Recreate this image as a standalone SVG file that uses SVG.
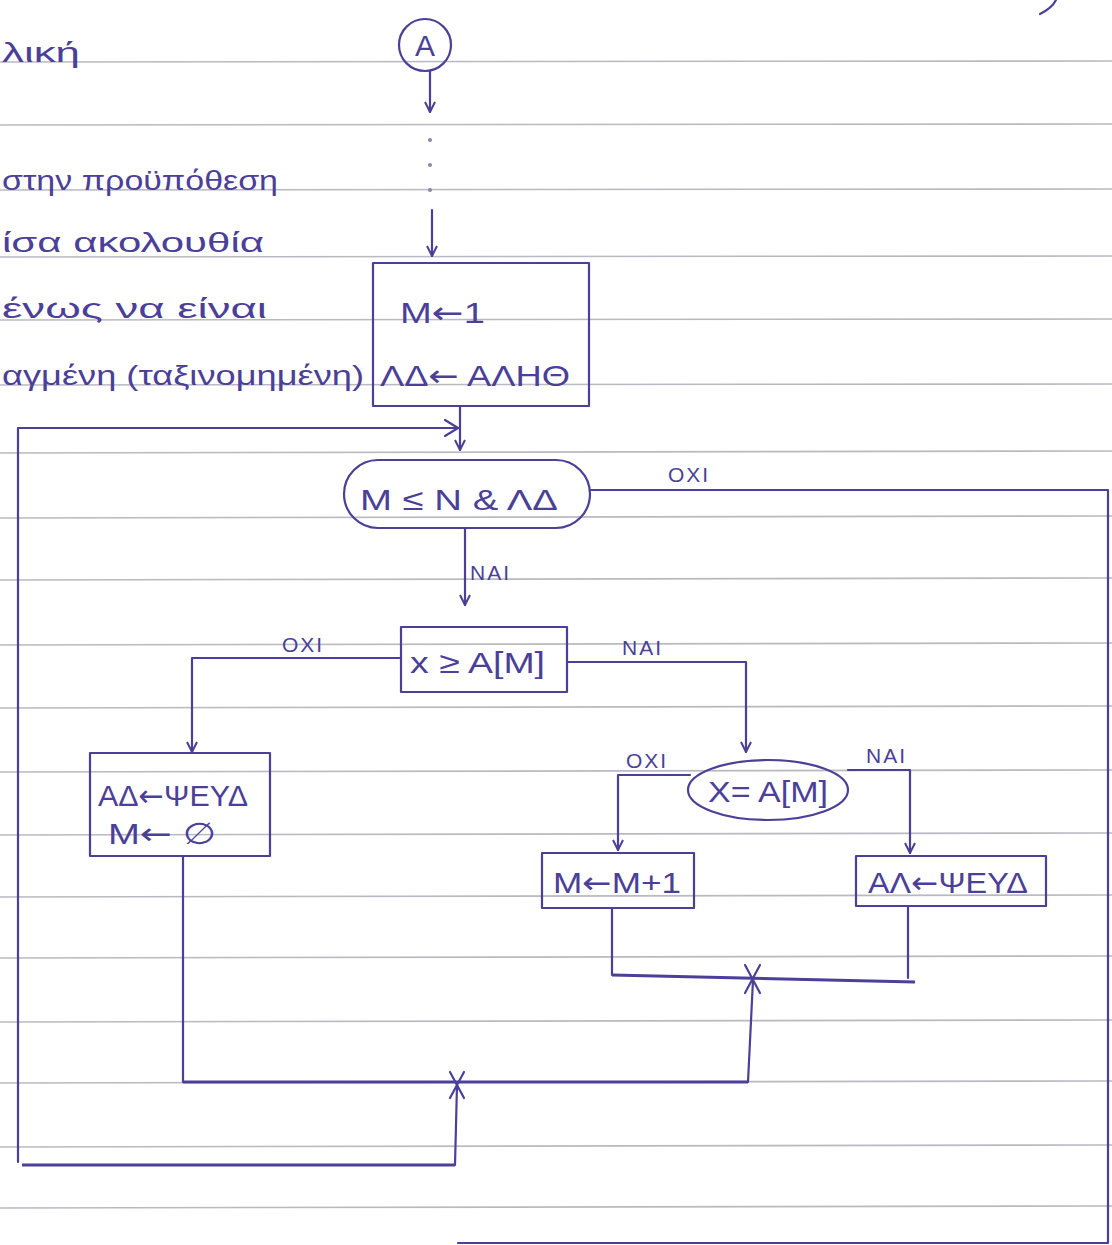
<svg xmlns="http://www.w3.org/2000/svg" width="1112" height="1245" viewBox="0 0 1112 1245">
<style>
.paper{stroke:#b9b9c2;stroke-width:1.6}
.pen{fill:none;stroke:#4b3f98;stroke-width:2.2;stroke-linecap:round;stroke-linejoin:round}
.thick{fill:none;stroke:#4b3f98;stroke-width:3}
.t{font-family:"Liberation Sans","DejaVu Sans",sans-serif;fill:#4b3f98;font-size:30px}
.ar{font-family:"DejaVu Sans",sans-serif}
.m{font-family:"Liberation Sans","DejaVu Sans",sans-serif;fill:#4b3f98;font-size:27px}
.lbl{font-family:"Liberation Sans","DejaVu Sans",sans-serif;fill:#4b3f98;font-size:21px;letter-spacing:2px}
</style>
<defs>
<marker id="ah" viewBox="0 0 12 12" refX="11" refY="6" markerWidth="12" markerHeight="12" markerUnits="userSpaceOnUse" orient="auto">
<path d="M1,1 L11,6 L1,11" fill="none" stroke="#4b3f98" stroke-width="2"/>
</marker>
</defs>
<rect width="1112" height="1245" fill="#ffffff"/>
<g id="paper-lines">
<line class="paper" x1="0" y1="62" x2="1112" y2="61"/>
<line class="paper" x1="0" y1="125" x2="1112" y2="124"/>
<line class="paper" x1="0" y1="190" x2="1112" y2="189"/>
<line class="paper" x1="0" y1="257" x2="1112" y2="256"/>
<line class="paper" x1="0" y1="320" x2="1112" y2="319"/>
<line class="paper" x1="0" y1="385" x2="1112" y2="384"/>
<line class="paper" x1="0" y1="453" x2="1112" y2="451"/>
<line class="paper" x1="0" y1="518" x2="1112" y2="516"/>
<line class="paper" x1="0" y1="580" x2="1112" y2="578"/>
<line class="paper" x1="0" y1="645" x2="1112" y2="643"/>
<line class="paper" x1="0" y1="708" x2="1112" y2="706"/>
<line class="paper" x1="0" y1="772" x2="1112" y2="770"/>
<line class="paper" x1="0" y1="835" x2="1112" y2="833"/>
<line class="paper" x1="0" y1="897" x2="1112" y2="895"/>
<line class="paper" x1="0" y1="958" x2="1112" y2="956"/>
<line class="paper" x1="0" y1="1022" x2="1112" y2="1020"/>
<line class="paper" x1="0" y1="1083" x2="1112" y2="1081"/>
<line class="paper" x1="0" y1="1147" x2="1112" y2="1145"/>
<line class="paper" x1="0" y1="1208" x2="1112" y2="1206"/>
</g>
<g id="margin-notes">
<text class="m" x="2" y="62" textLength="78" lengthAdjust="spacingAndGlyphs">λική</text>
<text class="m" x="2" y="190" textLength="276" lengthAdjust="spacingAndGlyphs">στην προϋπόθεση</text>
<text class="m" x="2" y="252" textLength="262" lengthAdjust="spacingAndGlyphs">ίσα ακολουθία</text>
<text class="m" x="2" y="318" textLength="265" lengthAdjust="spacingAndGlyphs">ένως να είναι</text>
<text class="m" x="2" y="385" textLength="362" lengthAdjust="spacingAndGlyphs">αγμένη (ταξινομημένη)</text>
<path class="pen" d="M1040,14 Q1052,8 1056,0"/>
</g>
<g id="node-A">
<circle class="pen" cx="425" cy="45" r="26"/>
<text class="t" x="425" y="56" text-anchor="middle" font-size="28">A</text>
</g>
<g id="node-init">
<rect class="pen" x="373" y="263" width="216" height="143"/>
<text class="t" x="400" y="323" font-size="34" textLength="85" lengthAdjust="spacingAndGlyphs">Μ<tspan class="ar">←</tspan>1</text>
<text class="t" x="380" y="386" textLength="190" lengthAdjust="spacingAndGlyphs">ΛΔ<tspan class="ar">←</tspan> ΑΛΗΘ</text>
</g>
<g id="node-while">
<rect class="pen" x="344" y="460" width="246" height="68" rx="34" ry="34"/>
<text class="t" x="360" y="510" font-size="32" textLength="198" lengthAdjust="spacingAndGlyphs">Μ ≤ Ν &amp;  ΛΔ</text>
</g>
<g id="node-cmp">
<rect class="pen" x="401" y="627" width="166" height="65"/>
<text class="t" x="410" y="673" textLength="135" lengthAdjust="spacingAndGlyphs">x ≥ A[M]</text>
</g>
<g id="node-false">
<rect class="pen" x="90" y="753" width="180" height="103"/>
<text class="t" x="98" y="806" textLength="150" lengthAdjust="spacingAndGlyphs">ΑΔ<tspan class="ar">←</tspan>ΨΕΥΔ</text>
<text class="t" x="108" y="844" textLength="108" lengthAdjust="spacingAndGlyphs">Μ<tspan class="ar">←</tspan> ∅</text>
</g>
<g id="node-eq">
<ellipse class="pen" cx="768" cy="790" rx="80" ry="30"/>
<text class="t" x="768" y="802" text-anchor="middle" textLength="120" lengthAdjust="spacingAndGlyphs">X= A[M]</text>
</g>
<g id="node-inc">
<rect class="pen" x="542" y="853" width="152" height="55"/>
<text class="t" x="553" y="893" textLength="128" lengthAdjust="spacingAndGlyphs">Μ<tspan class="ar">←</tspan>Μ+1</text>
</g>
<g id="node-found">
<rect class="pen" x="856" y="856" width="190" height="50"/>
<text class="t" x="868" y="893" textLength="160" lengthAdjust="spacingAndGlyphs">ΑΛ<tspan class="ar">←</tspan>ΨΕΥΔ</text>
</g>
<g id="connectors">
<line class="pen" x1="430" y1="71" x2="430" y2="112" marker-end="url(#ah)"/>
<circle cx="430" cy="140" r="2" fill="#8a86a8"/>
<circle cx="430" cy="165" r="2" fill="#8a86a8"/>
<circle cx="430" cy="190" r="2" fill="#8a86a8"/>
<line class="pen" x1="432" y1="210" x2="432" y2="256" marker-end="url(#ah)"/>
<line class="pen" x1="460" y1="406" x2="460" y2="450" marker-end="url(#ah)"/>
<polyline class="pen" points="18,1162 18,428 458,428"/>
<path class="pen" d="M445,420 L458,428 L445,436"/>
<polyline class="pen" points="590,490 1108,490 1108,1243 458,1243"/>
<line class="pen" x1="465" y1="528" x2="465" y2="605" marker-end="url(#ah)"/>
<polyline class="pen" points="401,658 192,658 192,752" marker-end="url(#ah)"/>
<polyline class="pen" points="567,662 746,662 746,752" marker-end="url(#ah)"/>
<polyline class="pen" points="690,775 618,775 618,850" marker-end="url(#ah)"/>
<polyline class="pen" points="848,770 910,770 910,853" marker-end="url(#ah)"/>
<polyline class="pen" points="612,908 612,975"/>
<polyline class="pen" points="908,906 908,978"/>
<line class="thick" x1="612" y1="975" x2="915" y2="982"/>
<path class="pen" d="M745,965 L760,993 M760,965 L745,993"/>
<line class="pen" x1="753" y1="980" x2="748" y2="1082"/>
<polyline class="pen" points="183,856 183,1082"/>
<line class="thick" x1="183" y1="1082" x2="748" y2="1082"/>
<path class="pen" d="M450,1072 L464,1098 M464,1072 L450,1098"/>
<polyline class="pen" points="457,1085 455,1165"/>
<line class="thick" x1="22" y1="1165" x2="455" y2="1165"/>
<text class="lbl" x="668" y="482">ΟΧΙ</text>
<text class="lbl" x="470" y="580">ΝΑΙ</text>
<text class="lbl" x="282" y="652">ΟΧΙ</text>
<text class="lbl" x="622" y="655">ΝΑΙ</text>
<text class="lbl" x="626" y="768">ΟΧΙ</text>
<text class="lbl" x="866" y="763">ΝΑΙ</text>
</g>
</svg>
